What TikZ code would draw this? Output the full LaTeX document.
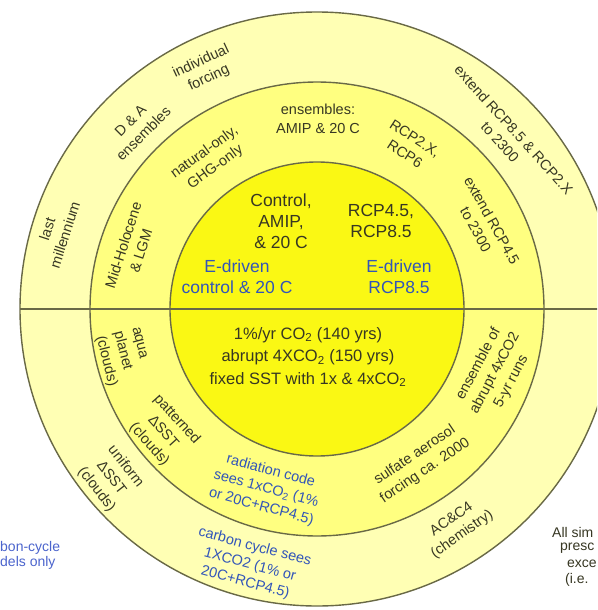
\documentclass[tikz,border=0pt]{standalone}
\usepackage{fontspec}
\setmainfont{Liberation Sans}
\definecolor{ringout}{RGB}{255,255,180}
\definecolor{ringmid}{RGB}{255,255,128}
\definecolor{core}{RGB}{250,248,20}
\definecolor{ringline}{RGB}{105,105,70}
\definecolor{txtdark}{RGB}{55,55,35}
\definecolor{txtblue}{RGB}{50,85,185}
\definecolor{sideblue}{RGB}{75,100,205}
\begin{document}
\begin{tikzpicture}[x=1pt,y=-1pt,
  ringtxt/.style={font=\fontsize{14.5}{18.5}\selectfont, align=center, text=txtdark, inner sep=0pt},
  coretxt/.style={font=\fontsize{17.5}{21}\selectfont, align=center, text=txtdark, inner sep=0pt},
  lowtxt/.style={font=\fontsize{16.5}{22.5}\selectfont, align=center, text=txtdark, inner sep=0pt},
  bluetxt/.style={text=txtblue},
  sidetxt/.style={font=\fontsize{14}{15}\selectfont, inner sep=0pt, anchor=west},
  ring/.style={draw=ringline, line width=1.4pt}]
\useasboundingbox (0,0) rectangle (597,610);
\clip (0,0) rectangle (597,610);
\fill[white] (0,0) rectangle (597,610);
\coordinate (c) at (317,309);
\filldraw[ring, fill=ringout] (c) circle[radius=297pt];
\filldraw[ring, fill=ringmid] (c) circle[radius=227pt];
\filldraw[ring, fill=core] (c) circle[radius=147pt];
\coordinate (hl) at (20,309);
\coordinate (hr) at (600,309);
\draw[ring] (hl) -- (hr);

% core, upper half
\node[coretxt] (ctl) at (281,221) {Control,\\AMIP,\\\& 20 C};
\node[coretxt] (rcp) at (381,221) {RCP4.5,\\RCP8.5};
\node[coretxt, bluetxt] (edc) at (237,277) {E-driven\\control \& 20 C};
\node[coretxt, bluetxt] (edr) at (399,277) {E-driven\\RCP8.5};
% core, lower half
\node[lowtxt] (co2) at (308,357) {1\%/yr CO\textsubscript{2} (140 yrs)\\abrupt 4XCO\textsubscript{2} (150 yrs)\\fixed SST with 1x \& 4xCO\textsubscript{2}};

% middle ring, upper
\node[ringtxt] (ens) at (318,119) {ensembles:\\AMIP \& 20 C};
\node[ringtxt, rotate=36] (nat) at (210,160) {natural-only,\\GHG-only};
\node[ringtxt, rotate=72] (mid) at (132,248) {Mid-Holocene\\\& LGM};
\node[ringtxt, rotate=-33] (r2x) at (410,146) {RCP2.X,\\RCP6};
\node[ringtxt, rotate=-61] (e45) at (484,225) {extend RCP4.5\\to 2300};
% outer ring, upper
\node[ringtxt, rotate=25] (ind) at (205,70) {individual\\forcing};
\node[ringtxt, rotate=45] (dna) at (137,127) {D \& A\\ensembles};
\node[ringtxt, rotate=72] (lmil) at (56,232) {last\\millennium};
\node[ringtxt, rotate=-48] (e85) at (507,136) {extend RCP8.5 \& RCP2.X\\to 2300};

% middle ring, lower
\node[ringtxt, align=left, rotate=-76] (aqua) at (123,357) {aqua\\planet\\(clouds)};
\node[ringtxt, rotate=-48] (pat) at (163,432) {patterned\\ΔSST\\(clouds)};
\node[ringtxt, bluetxt, rotate=-15] (rad) at (266,489) {radiation code\\sees 1xCO\textsubscript{2} (1\%\\or 20C+RCP4.5)};
\node[ringtxt, rotate=34] (sulf) at (420,463) {sulfate aerosol\\forcing ca. 2000};
\node[ringtxt, rotate=62] (abr) at (495,373) {ensemble of\\abrupt 4xCO2\\5-yr runs};
% outer ring, lower
\node[ringtxt, rotate=-52] (uni) at (111,478) {uniform\\ΔSST\\(clouds)};
\node[ringtxt, bluetxt, rotate=-15] (cc) at (250,565) {carbon cycle sees\\1XCO2 (1\% or\\20C+RCP4.5)};
\node[ringtxt, rotate=35] (chem) at (457,527) {AC\&C4\\(chemistry)};

% side texts, cut by the picture edge
\node[sidetxt, text=sideblue, align=left] (cbl) at (0,555) {bon-cycle\\dels only};
\node[sidetxt, text=txtdark] (as1) at (552,532) {All sim};
\node[sidetxt, text=txtdark] (as2) at (560,548) {presc};
\node[sidetxt, text=txtdark] (as3) at (567,564) {exce};
\node[sidetxt, text=txtdark] (as4) at (565,580) {(i.e.};
\end{tikzpicture}
\end{document}
